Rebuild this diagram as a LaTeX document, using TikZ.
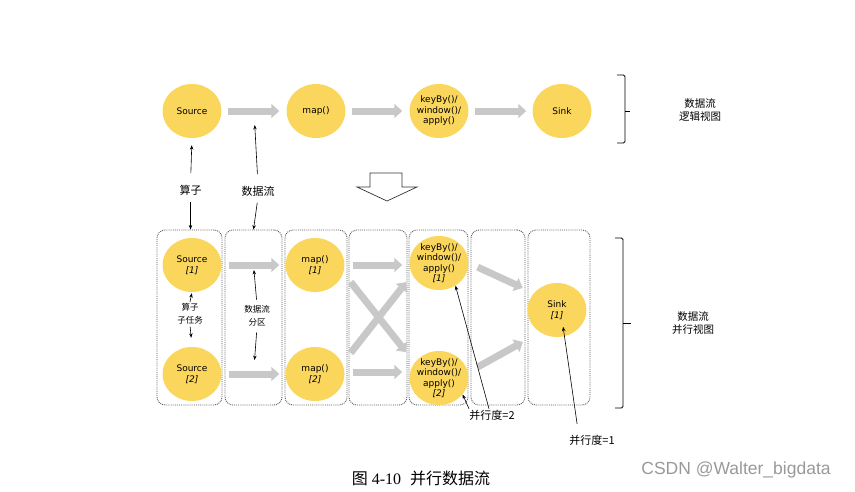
\documentclass[tikz,border=0pt]{standalone}
\usepackage{fontspec}
\setmainfont{DejaVu Sans}
\newfontfamily\cjk{Noto Sans CJK SC}
\newfontfamily\capserif{Liberation Serif}
\newfontfamily\markfont{Liberation Sans}
\usetikzlibrary{shapes.geometric, arrows.meta, calc}
\definecolor{flinkyellow}{RGB}{250,214,92}
\definecolor{flowgray}{RGB}{200,200,200}

\begin{document}
\begin{tikzpicture}[x=1pt, y=-1pt,
roundnode/.style={ellipse, fill=flinkyellow, minimum width=59pt, minimum height=54pt, inner sep=-5pt, align=center, font=\fontsize{9}{10.5}\selectfont},
groupnode/.style={rectangle, draw=black!65, densely dotted, line width=0.9pt, rounded corners=8pt, minimum height=175pt, inner sep=0pt},
flowarrow/.style={draw=flowgray, line width=7pt, -{Triangle[length=8pt,width=14pt]}},
notearrow/.style={line width=0.6pt, -{Stealth[length=4.5pt,width=3.5pt]}},
notenode/.style={font=\cjk\fontsize{11}{13}\selectfont, align=center, inner sep=1pt},
smallnote/.style={font=\cjk\fontsize{8.5}{12.5}\selectfont, align=center, inner sep=1pt},
sidenode/.style={font=\cjk\fontsize{10.5}{13.5}\selectfont, align=center}
]
\useasboundingbox (0,0) rectangle (855,491);

%Nodes - logical view
\node[roundnode] (source_node) at (192,111) {Source};
\node[roundnode] (map_node)    at (316,111) {map()};
\node[roundnode] (keyby_node)  at (439,111) {keyBy()/\\window()/\\apply()};
\node[roundnode] (sink_node)   at (562,111) {Sink};
\node[sidenode]  (logic_node)  at (700,110) {数据流\\逻辑视图};

%Nodes - parallel view
\node[groupnode, minimum width=65pt] (group_a_node) at (189.5,317.5) {};
\node[groupnode, minimum width=57pt] (group_b_node) at (253.5,317.5) {};
\node[groupnode, minimum width=62pt] (group_c_node) at (316,317.5) {};
\node[groupnode, minimum width=58pt] (group_d_node) at (378,317.5) {};
\node[groupnode, minimum width=59pt] (group_e_node) at (438.5,317.5) {};
\node[groupnode, minimum width=54pt] (group_f_node) at (498,317.5) {};
\node[groupnode, minimum width=62pt] (group_g_node) at (559,317.5) {};

\node[roundnode] (source_one_node) at (192,265) {Source\\\textit{[1]}};
\node[roundnode] (source_two_node) at (192,374) {Source\\\textit{[2]}};
\node[roundnode] (map_one_node)    at (315,265) {map()\\\textit{[1]}};
\node[roundnode] (map_two_node)    at (315,374) {map()\\\textit{[2]}};
\node[roundnode] (keyby_one_node)  at (439,263) {keyBy()/\\window()/\\apply()\\\textit{[1]}};
\node[roundnode] (keyby_two_node)  at (439,378) {keyBy()/\\window()/\\apply()\\\textit{[2]}};
\node[roundnode] (sink_one_node)   at (557,310) {Sink\\\textit{[1]}};
\node[sidenode]  (parallel_node)   at (693,323) {数据流\\并行视图};

%Notes
\node[notenode]  (op_note_node)    at (190.5,190) {算子};
\node[notenode]  (flow_note_node)  at (258,191) {数据流};
\node[smallnote] (task_note_node)  at (190,313.5) {算子\\子任务};
\node[smallnote] (part_note_node)  at (257,316) {数据流\\分区};
\node[notenode]  (par_two_node)    at (492,415) {并行度=2};
\node[notenode]  (par_one_node)    at (592,440) {并行度=1};

%Lines - logical view
\draw[flowarrow, shorten <=6pt, shorten >=7pt] (source_node) -- (map_node);
\draw[flowarrow, shorten <=6pt, shorten >=7pt] (map_node) -- (keyby_node);
\draw[flowarrow, shorten <=6pt, shorten >=6pt] (keyby_node) -- (sink_node);

%Lines - parallel view
\draw[flowarrow, shorten <=7pt, shorten >=6pt] (source_one_node) -- (map_one_node);
\draw[flowarrow, shorten <=7pt, shorten >=6pt] (source_two_node) -- (map_two_node);
\draw[flowarrow, shorten <=8pt, shorten >=7pt] (map_one_node.east) -- (map_one_node.east -| keyby_one_node.west);
\draw[flowarrow, shorten <=8pt, shorten >=7pt] ([yshift=2pt]map_two_node.east) -- ([yshift=2pt]map_two_node.east -| keyby_two_node.west);
\draw[flowarrow, shorten <=9.5pt, shorten >=4.8pt] ([yshift=-9.6pt]map_one_node.east) -- ([yshift=22pt]keyby_two_node.west);
\draw[flowarrow, shorten <=9.6pt, shorten >=4.8pt] ([yshift=13.5pt]map_two_node.east) -- ([yshift=-15.3pt]keyby_one_node.west);
\draw[flowarrow, shorten <=9.9pt, shorten >=5pt] (keyby_one_node.east) -- ([yshift=20pt]sink_one_node.west);
\draw[flowarrow, shorten <=10.2pt, shorten >=5pt] ([yshift=6pt]keyby_two_node.east) -- ([yshift=-29.5pt]sink_one_node.west);

%Lines - notes
\draw[notearrow, shorten <=10.5pt, shorten >=7pt] (op_note_node.north) -- (source_node.south);
\draw[notearrow, shorten <=5.5pt] (op_note_node.south) -- (op_note_node.south |- group_a_node.north);
\coordinate (flow_top_mark) at ($(source_node)!0.5!(map_node)$);
\draw[notearrow, shorten <=10.5pt, shorten >=14pt] (flow_note_node.north) -- (flow_top_mark);
\draw[notearrow, shorten <=5.5pt] (flow_note_node.south) -- (group_b_node.north);
\draw[notearrow, shorten >=1pt] (task_note_node.north) -- (source_one_node.south);
\draw[notearrow, shorten <=2pt, shorten >=9pt] (task_note_node.south) -- (source_two_node.north);
\coordinate (flow_one_mark) at ($(source_one_node)!0.5!(map_one_node)$);
\coordinate (flow_two_mark) at ($(source_two_node)!0.5!(map_two_node)$);
\draw[notearrow, shorten <=5pt, shorten >=5pt] (part_note_node.north) -- (flow_one_mark);
\draw[notearrow, shorten <=5pt, shorten >=14pt] (part_note_node.south) -- (flow_two_mark);
\draw[notearrow] ([xshift=-23pt]par_two_node.north) -- (keyby_two_node.-35);
\draw[notearrow] ([xshift=-3pt]par_two_node.north) -- (keyby_one_node.-54);
\draw[notearrow, shorten <=10pt] ([xshift=-13.5pt]par_one_node.north) -- ($(sink_one_node.center)!0.65!(sink_one_node.-70)$);

%Braces and big arrow
\draw[line width=0.9pt, rounded corners=1.5pt] (617,75) -- (625,75) -- (625,143) -- (617,143);
\draw[line width=0.9pt] (625,111) -- (630,111);
\draw[line width=0.9pt, rounded corners=1.5pt] (615,238) -- (623,238) -- (623,408) -- (615,408);
\draw[line width=0.9pt] (623,323) -- (631,323);
\draw[line width=0.7pt, black!80, fill=white] (370,173) -- (402,173) -- (402,187) -- (417,187) -- (387,201) -- (357,187) -- (370,187) -- cycle;

%Caption
\node (caption_node) at (421,478) {\fontsize{16}{18}\selectfont{\cjk 图}\hspace{4pt}{\capserif 4-10}\hspace{9pt}{\cjk 并行数据流}};
\node[text=black!40] (mark_node) at (736,470) {\markfont\fontsize{17.5}{20}\selectfont CSDN @Walter\_bigdata};

\end{tikzpicture}
\end{document}
